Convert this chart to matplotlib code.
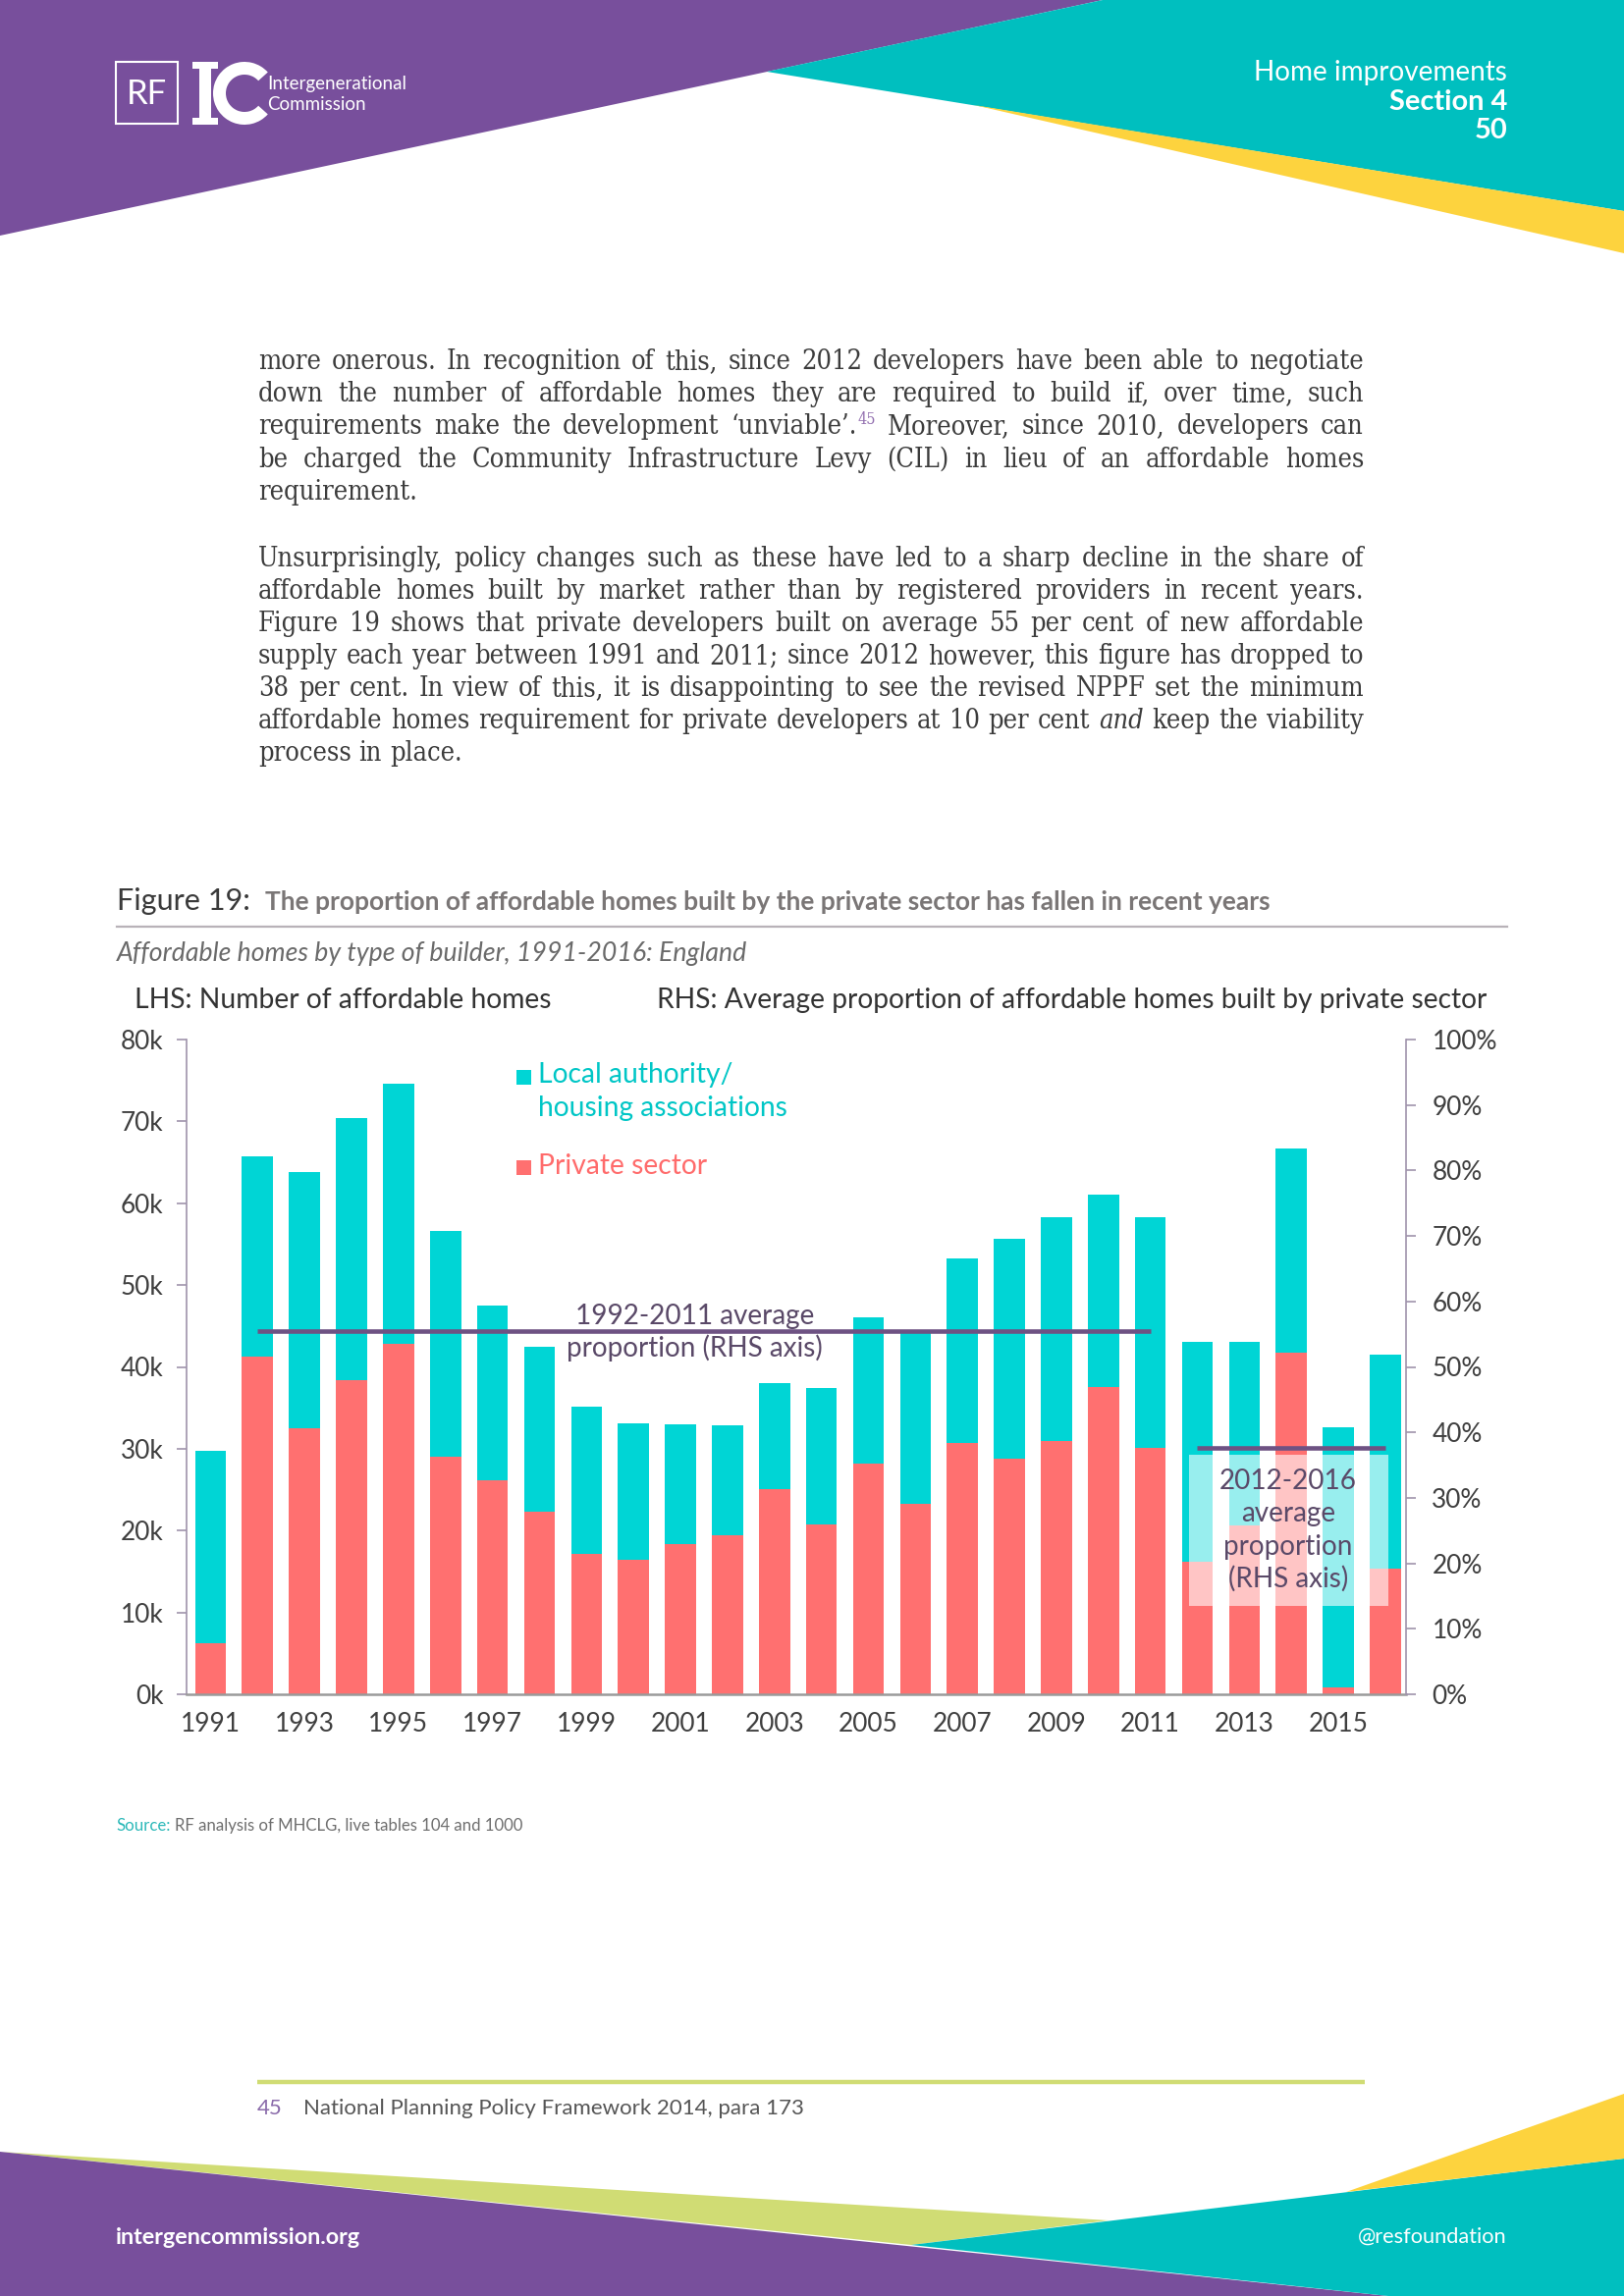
import matplotlib
matplotlib.use('Agg')
import matplotlib.pyplot as plt
from matplotlib.patches import Polygon, Rectangle, Wedge

# ---------------- data ----------------
years = list(range(1991, 2017))
private_sector = [6200, 41300, 32500, 38400, 42800, 29000, 26100, 22300, 17200, 16400,
                  18400, 19400, 25100, 20700, 28200, 23300, 30700, 28800, 30900, 37600,
                  30100, 16200, 20600, 41700, 800, 15400]
la_housing_assoc = [23500, 24400, 31300, 32000, 31800, 27600, 21400, 20100, 17900, 16700,
                    14600, 13500, 12900, 16700, 17800, 21200, 22500, 26900, 27400, 23500,
                    28200, 26900, 22400, 25000, 31800, 26100]
avg_start = [1992, 2012]
avg_end = [2011, 2016]
avg_share = [55.5, 37.6]
left_ticks = [0, 10000, 20000, 30000, 40000, 50000, 60000, 70000, 80000]
left_labels = ['0k', '10k', '20k', '30k', '40k', '50k', '60k', '70k', '80k']
right_ticks = [0, 10, 20, 30, 40, 50, 60, 70, 80, 90, 100]
right_labels = ['0%', '10%', '20%', '30%', '40%', '50%', '60%', '70%', '80%', '90%', '100%']
x_ticks = list(range(1991, 2016, 2))
x_labels = [str(y) for y in x_ticks]

# ---------------- style ----------------
TEAL = '#00D5D5'
CORAL = '#FF7070'
LINEC = '#6E5283'
SPINE = '#A093AC'
PURPLE = '#784F9C'
HTEAL = '#00BFBF'
YELLOW = '#FDD33E'
GREEN = '#D0DC74'
BODY = '#3C3C3C'
ANNO = '#5A4968'
TICKC = '#3F3F3F'

plt.rcParams['font.family'] = ['Lato', 'DejaVu Sans']

W, H = 1654, 2339
fig = plt.figure(figsize=(W / 100, H / 100), dpi=100)
fig.patch.set_facecolor('white')
bg = fig.add_axes([0, 0, 1, 1])
bg.set_xlim(0, W)
bg.set_ylim(H, 0)
bg.axis('off')
bg.set_zorder(0)
renderer = fig.canvas.get_renderer()


def width_of(t):
    return t.get_window_extent(renderer=renderer).width


def fit(axes, x, y, s, width, **kw):
    t = axes.text(x, y, s, fontsize=10, **kw)
    w = width_of(t)
    t.set_fontsize(10 * width / w)
    return t


def size_for(s, width, **kw):
    t = bg.text(0, 0, s, fontsize=10, **kw)
    w = width_of(t)
    t.remove()
    return 10 * width / w


# ---------------- header ----------------
bg.add_patch(Polygon([(0, 0), (1123, 0), (0, 240)], closed=True, color=PURPLE, lw=0, zorder=1))
bg.add_patch(Polygon([(781, 73), (1123, 0), (1654, 0), (1654, 215)], closed=True, color=HTEAL, lw=0, zorder=1))
bg.add_patch(Polygon([(992, 107), (1654, 215), (1654, 258)], closed=True, color=YELLOW, lw=0, zorder=1))

# logo
bg.add_patch(Rectangle((118, 63), 63, 63, fill=False, edgecolor='white', lw=1.5, zorder=3))
bg.text(149.5, 96, 'RF', color='white', fontsize=25, ha='center', va='center', zorder=4)
bg.add_patch(Rectangle((203, 66), 12, 58, color='white', lw=0, zorder=3))
bg.add_patch(Rectangle((196, 63), 26, 7, color='white', lw=0, zorder=3))
bg.add_patch(Rectangle((196, 120), 26, 7, color='white', lw=0, zorder=3))
bg.add_patch(Wedge((249, 95), 32, 42, 318, width=13, color='white', lw=0, zorder=3))
fs_logo = size_for('Intergenerational', 142)
bg.text(272, 86, 'Intergenerational', color='white', fontsize=fs_logo, va='center', zorder=4)
bg.text(272, 106, 'Commission', color='white', fontsize=fs_logo, va='center', zorder=4)

fit(bg, 1535, 74, 'Home improvements', 258, color='white', ha='right', va='center', zorder=4)
fs_sec = size_for('Section 4', 121, fontweight='bold')
bg.text(1535, 104, 'Section 4', color='white', fontsize=fs_sec, fontweight='bold',
        ha='right', va='center', zorder=4)
bg.text(1535, 133, '50', color='white', fontsize=fs_sec, fontweight='bold',
        ha='right', va='center', zorder=4)

# ---------------- body text ----------------
plain = {}
SUP = {'scale': 0.6, 'dy': -10, 'color': '#9370B0'}
ITAL = {'style': 'italic'}
SERIF = dict(family='DejaVu Serif', fontstretch='condensed')


def words(s):
    return [[(w, plain)] for w in s.split(' ')]


p1 = [
    (words('more onerous. In recognition of this, since 2012 developers have been able to negotiate'), True),
    (words('down the number of affordable homes they are required to build if, over time, such'), True),
    (words('requirements make the development') + [[('\u2018unviable\u2019.', plain), ('45', SUP)]]
     + words('Moreover, since 2010, developers can'), True),
    (words('be charged the Community Infrastructure Levy (CIL) in lieu of an affordable homes'), True),
    (words('requirement.'), False),
]
p2 = [
    (words('Unsurprisingly, policy changes such as these have led to a sharp decline in the share of'), True),
    (words('affordable homes built by market rather than by registered providers in recent years.'), True),
    (words('Figure 19 shows that private developers built on average 55 per cent of new affordable'), True),
    (words('supply each year between 1991 and 2011; since 2012 however, this figure has dropped to'), True),
    (words('38 per cent. In view of this, it is disappointing to see the revised NPPF set the minimum'), True),
    (words('affordable homes requirement for private developers at 10 per cent') + [[('and', ITAL)]]
     + words('keep the viability'), True),
    (words('process in place.'), False),
]
ys1 = [376 + 33.25 * k for k in range(5)]
ys2 = [577 + 33.05 * k for k in range(7)]
X0, X1 = 263, 1389


def build(lines, ys, size, measure_only=False):
    naturals = []
    for (wl, justify), y in zip(lines, ys):
        objs, widths = [], []
        for word in wl:
            segs, wsum = [], 0
            for txt, kw in word:
                t = bg.text(0, y + kw.get('dy', 0), txt, fontsize=size * kw.get('scale', 1),
                            color=kw.get('color', BODY), style=kw.get('style', 'normal'),
                            va='baseline', zorder=4, **SERIF)
                w = width_of(t)
                segs.append((t, w))
                wsum += w
            objs.append(segs)
            widths.append(wsum)
        t = bg.text(0, 0, 'a a', fontsize=size, **SERIF)
        t2 = bg.text(0, 0, 'aa', fontsize=size, **SERIF)
        sp = width_of(t) - width_of(t2)
        t.remove(); t2.remove()
        naturals.append(sum(widths) + sp * (len(wl) - 1))
        if measure_only:
            for segs in objs:
                for tt, _ in segs:
                    tt.remove()
            continue
        n = len(wl)
        gap = (X1 - X0 - sum(widths)) / (n - 1) if (justify and n > 1) else sp
        x = X0
        for segs, w in zip(objs, widths):
            xx = x
            for tt, sw in segs:
                tt.set_x(xx)
                xx += sw
            x += w + gap
    return naturals


nat = build(p1, ys1, 10, True) + build(p2, ys2, 10, True)
body_size = 10 * (X1 - X0) / max(nat) * 0.985
build(p1, ys1, body_size)
build(p2, ys2, body_size)

# ---------------- figure titles ----------------
fit(bg, 119, 927, 'Figure 19:', 136, color='#3A3A3A', va='baseline', zorder=4)
fit(bg, 270, 927, 'The proportion of affordable homes built by the private sector has fallen in recent years',
    1030, color='#7A7676', fontweight='bold', va='baseline', zorder=4)
bg.plot([119, 1535], [944, 944], color='#B8B2B8', lw=1.6, zorder=3)
fit(bg, 119, 979, 'Affordable homes by type of builder, 1991-2016: England', 641,
    color='#6A6A6A', style='italic', va='baseline', zorder=4)

fit(bg, 137, 1019, 'LHS: Number of affordable homes', 425, color='#333333', va='center', zorder=4)
fit(bg, 669, 1019, 'RHS: Average proportion of affordable homes built by private sector', 846,
    color='#333333', va='center', zorder=4)

# ---------------- chart ----------------
axL, axR, axT, axB = 190, 1432, 1059, 1726
ax = fig.add_axes([axL / W, 1 - axB / H, (axR - axL) / W, (axB - axT) / H])
ax.set_zorder(2)
ax.patch.set_alpha(0)

ax.bar(years, private_sector, width=0.66, color=CORAL, lw=0, zorder=2)
ax.bar(years, la_housing_assoc, bottom=private_sector, width=0.66, color=TEAL, lw=0, zorder=2)
ax.set_xlim(1990.49, 2016.44)
ax.set_ylim(0, 80000)

fs_tick = size_for('1991', 61)
ax.set_yticks(left_ticks)
ax.set_yticklabels(left_labels)
ax.set_xticks(x_ticks)
ax.set_xticklabels(x_labels)
ax.tick_params(axis='y', direction='out', length=7, width=1.2, color=SPINE, pad=10,
               labelsize=fs_tick, labelcolor=TICKC)
ax.tick_params(axis='x', length=0, pad=13, labelsize=fs_tick, labelcolor=TICKC)
for s in ['top', 'right']:
    ax.spines[s].set_visible(False)
ax.spines['left'].set_color(SPINE)
ax.spines['left'].set_linewidth(1.2)
ax.spines['bottom'].set_color('#9A9A9A')
ax.spines['bottom'].set_linewidth(1.8)

# annotation box and text (LHS units)
ax.add_patch(Rectangle((2011.83, 10820), 4.23, 18430, facecolor='white', alpha=0.6,
                       edgecolor='none', zorder=4))
fs_anno = size_for('proportion (RHS axis)', 262)
ax.text(2001.3, 45200, '1992-2011 average', fontsize=fs_anno, color=ANNO, ha='center',
        va='baseline', zorder=6)
ax.text(2001.3, 41300, 'proportion (RHS axis)', fontsize=fs_anno, color=ANNO, ha='center',
        va='baseline', zorder=6)
for txt, yb in zip(['2012-2016', 'average', 'proportion', '(RHS axis)'],
                   [25050, 21050, 17060, 13070]):
    ax.text(2013.93, yb, txt, fontsize=fs_anno, color=ANNO, ha='center', va='baseline', zorder=6)

# legend
fs_leg = size_for('housing associations', 254)
ax.scatter([1997.66], [75500], marker='s', s=(15 * 0.72) ** 2, color=TEAL, lw=0, zorder=6)
ax.scatter([1997.66], [64400], marker='s', s=(15 * 0.72) ** 2, color=CORAL, lw=0, zorder=6)
ax.text(1997.97, 74700, 'Local authority/', fontsize=fs_leg, color='#00C6C6', va='baseline', zorder=6)
ax.text(1997.97, 70700, 'housing associations', fontsize=fs_leg, color='#00C6C6', va='baseline', zorder=6)
ax.text(1997.97, 63600, 'Private sector', fontsize=fs_leg, color='#FF6B6B', va='baseline', zorder=6)

# right axis
ax2 = ax.twinx()
ax2.set_zorder(3)
ax2.patch.set_visible(False)
ax2.set_ylim(0, 100)
ax2.set_xlim(1990.49, 2016.44)
for xs, xe, v in zip(avg_start, avg_end, avg_share):
    ax2.plot([xs, xe], [v, v], color=LINEC, lw=3.3, solid_capstyle='butt', zorder=5)
ax2.set_yticks(right_ticks)
ax2.set_yticklabels(right_labels)
ax2.tick_params(axis='y', direction='out', length=7, width=1.2, color=SPINE, pad=12,
                labelsize=fs_tick, labelcolor=TICKC)
for s in ['top', 'left', 'bottom']:
    ax2.spines[s].set_visible(False)
ax2.spines['right'].set_color(SPINE)
ax2.spines['right'].set_linewidth(1.2)

# ---------------- source & footnote ----------------
fs_src = size_for('Source: RF analysis of MHCLG, live tables 104 and 1000', 415)
t_src = bg.text(118, 1860, 'Source:', fontsize=fs_src, color='#2BB8B8', va='center', zorder=4)
bg.text(118 + width_of(t_src) + 4, 1860, 'RF analysis of MHCLG, live tables 104 and 1000',
        fontsize=fs_src, color='#6E6E6E', va='center', zorder=4)

bg.plot([262, 1390], [2121, 2121], color=GREEN, lw=3.2, solid_capstyle='butt', zorder=3)
fs_fn = size_for('National Planning Policy Framework 2014, para 173', 509)
bg.text(262, 2148, '45', fontsize=fs_fn, color='#8A6BAA', va='center', zorder=4)
bg.text(309, 2148, 'National Planning Policy Framework 2014, para 173', fontsize=fs_fn,
        color='#555555', va='center', zorder=4)

# ---------------- footer ----------------
bg.add_patch(Polygon([(0, 2192), (1129, 2262), (928, 2287)], closed=True, color=GREEN, lw=0, zorder=1))
bg.add_patch(Polygon([(0, 2192), (1414, 2339), (0, 2339)], closed=True, color=PURPLE, lw=0, zorder=1))
bg.add_patch(Polygon([(928, 2287), (1654, 2199), (1654, 2339), (1414, 2339)], closed=True,
                     color=HTEAL, lw=0, zorder=1))
bg.add_patch(Polygon([(1371, 2233), (1654, 2133), (1654, 2199)], closed=True, color=YELLOW, lw=0, zorder=1))

fit(bg, 118, 2279, 'intergencommission.org', 251, color='white', fontweight='bold', va='center', zorder=4)
fit(bg, 1535, 2279, '@resfoundation', 153, color='white', ha='right', va='center', zorder=4)

fig.savefig('out.png', dpi=100, facecolor='white')
